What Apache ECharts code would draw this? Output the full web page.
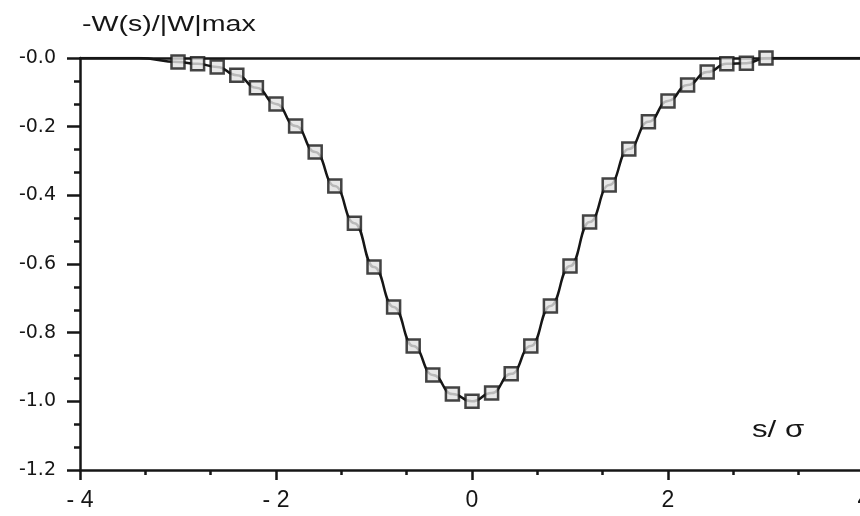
<!DOCTYPE html>
<html>
<head>
<meta charset="utf-8">
<script src="https://cdn.jsdelivr.net/npm/echarts@6/dist/echarts.min.js"></script>
<style>
  html, body { margin: 0; padding: 0; background: #fff; }
  #main { width: 860px; height: 516px; }
</style>
</head>
<body>
<div id="main"></div>
<script>
// s/sigma positions of the square markers
const sPoints = [-3.0, -2.8, -2.6, -2.4, -2.2, -2.0, -1.8, -1.6, -1.4, -1.2, -1.0,
  -0.8, -0.6, -0.4, -0.2, 0.0, 0.2, 0.4, 0.6, 0.8, 1.0,
  1.2, 1.4, 1.6, 1.8, 2.0, 2.2, 2.4, 2.6, 2.8, 3.0];
// -W(s)/|W|max
const wPoints = [-0.012, -0.017, -0.026, -0.050, -0.087, -0.134, -0.198, -0.274, -0.373, -0.481, -0.609,
  -0.725, -0.839, -0.923, -0.979, -1.0, -0.976, -0.920, -0.839, -0.722, -0.606,
  -0.478, -0.370, -0.265, -0.186, -0.125, -0.079, -0.041, -0.017, -0.015, 0.0];
// flat ends of the solid curve
const lineLeft = [[-4, 0], [-3.4, 0]];
const lineRight = [[3.4, 0], [4, 0]];

const yAxisTitle = '-W(s)/|W|max';
const xAxisTitle = 's/ σ';

const markers = sPoints.map((s, i) => [s, wPoints[i]]);
const curve = lineLeft.concat(markers, lineRight);

const font = '"Liberation Sans", Arial, sans-serif';
const ink = '#161616';
const chart = echarts.init(document.getElementById('main'));

chart.setOption({
  animation: false,
  backgroundColor: '#fff',
  // the scanned lettering is wider than Arial, so stretch the two captions
  graphic: [
    {
      type: 'text',
      left: 82,
      top: 14,
      scaleX: 1.3,
      style: { text: yAxisTitle, font: '22px ' + font, fill: ink }
    },
    {
      type: 'text',
      left: 752,
      top: 418,
      scaleX: 1.3,
      style: { text: xAxisTitle, font: '24px ' + font, fill: ink }
    }
  ],
  grid: { left: 80, width: 784, top: 58, bottom: 46, outerBoundsMode: 'none' },
  xAxis: [
    {
      type: 'value',
      min: -4,
      max: 4,
      interval: 2,
      axisLine: { onZero: false, lineStyle: { color: ink, width: 2.5 } },
      axisTick: { length: 10, lineStyle: { color: ink, width: 2.5 } },
      minorTick: { show: true, splitNumber: 3, length: 5, lineStyle: { color: ink, width: 2.5 } },
      splitLine: { show: false },
      axisLabel: {
        margin: 19,
        fontFamily: font,
        fontSize: 23,
        color: ink,
        formatter: v => (v < 0 ? '- ' + Math.abs(v) : String(v))
      }
    },
    {
      // plain frame line along the top
      type: 'value',
      position: 'top',
      min: -4,
      max: 4,
      axisLine: { onZero: false, lineStyle: { color: ink, width: 2.5 } },
      axisTick: { show: false },
      axisLabel: { show: false },
      splitLine: { show: false }
    }
  ],
  yAxis: {
    type: 'value',
    min: -1.2,
    max: 0,
    interval: 0.2,
    axisLine: { onZero: false, lineStyle: { color: ink, width: 2.5 } },
    axisTick: { length: 13, lineStyle: { color: ink, width: 2.5 } },
    minorTick: { show: true, splitNumber: 3, length: 6, lineStyle: { color: ink, width: 2.5 } },
    splitLine: { show: false },
    axisLabel: {
      margin: 24,
      fontFamily: '"DejaVu Sans", sans-serif',
      fontSize: 19,
      color: ink,
      formatter: v => (Math.abs(v) < 1e-9 ? '-0.0' : v.toFixed(1))
    }
  },
  series: [
    {
      type: 'line',
      data: curve,
      smooth: 0.5,
      smoothMonotone: 'x',
      showSymbol: false,
      lineStyle: { color: ink, width: 2.5 },
      z: 2
    },
    {
      type: 'scatter',
      data: markers,
      symbol: 'rect',
      symbolSize: 13,
      itemStyle: { color: '#e2e2e2', borderColor: ink, borderWidth: 2.5 },
      z: 3
    }
  ]
});
</script>
</body>
</html>
